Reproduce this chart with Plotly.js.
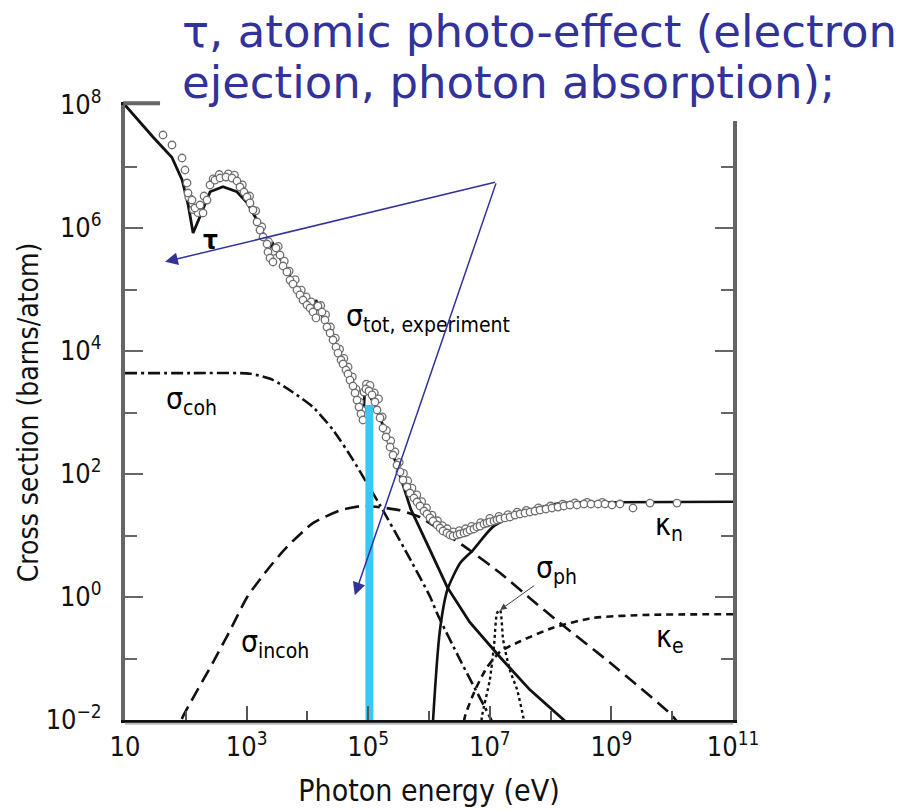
<!DOCTYPE html>
<html>
<head>
<meta charset="utf-8">
<script src="https://cdn.plot.ly/plotly-3.0.1.min.js"></script>
<style>
  html, body { margin: 0; padding: 0; background: #fff; }
  #chart { width: 901px; height: 810px; }
</style>
</head>
<body>
<div id="chart"></div>
<script>
// Photon cross sections in lead. Energies are stored as log10(E / eV),
// cross sections as log10(sigma / (barns/atom)).

// tau: atomic photo-effect (absorption edges included)
const tauLogE   = [1.00, 1.46, 1.77, 1.94, 2.04, 2.12, 2.23, 2.40, 2.61, 2.84, 3.01, 3.17, 3.32, 3.385, 3.42, 3.55, 3.71, 3.88, 4.09, 4.14, 4.37, 4.65, 4.914, 4.947, 5.15, 5.36, 5.51, 5.70, 6.00, 6.30, 6.67, 7.17, 7.66, 8.16, 8.40];
const tauLogSig = [8.00, 7.48, 7.15, 6.78, 6.37, 5.92, 6.18, 6.59, 6.67, 6.59, 6.41, 6.13, 5.81, 5.45, 5.77, 5.51, 5.22, 4.94, 4.58, 4.83, 4.26, 3.69, 2.86, 3.42, 3.04, 2.47, 2.00, 1.43, 0.80, 0.16, -0.41, -0.98, -1.51, -1.95, -2.16];

// sigma_coh: coherent (Rayleigh) scattering
const cohLogE   = [1.00, 2.07, 3.06, 3.43, 3.76, 4.09, 4.42, 4.75, 4.98, 5.19, 5.61, 6.02, 6.13, 6.51, 7.00, 7.15];
const cohLogSig = [3.64, 3.64, 3.63, 3.53, 3.33, 3.09, 2.72, 2.23, 1.85, 1.50, 0.76, 0.00, -0.26, -1.02, -1.95, -2.25];

// sigma_incoh: incoherent (Compton) scattering
const incLogE   = [1.80, 1.95, 2.45, 2.73, 3.01, 3.34, 3.66, 4.09, 4.54, 4.91, 5.19, 5.52, 5.85, 6.18, 6.67, 7.17, 7.66, 8.15, 8.98, 9.96, 10.10];
const incLogSig = [-2.30, -1.95, -1.06, -0.54, 0.00, 0.44, 0.81, 1.20, 1.41, 1.48, 1.46, 1.41, 1.30, 1.09, 0.76, 0.39, -0.02, -0.42, -1.07, -1.89, -2.05];

// kappa_n: pair production in the nuclear field
const knLogE   = [6.02, 6.07, 6.18, 6.30, 6.51, 6.72, 7.05, 7.50, 8.20, 9.03, 11.00];
const knLogSig = [-3.00, -1.95, -0.54, 0.11, 0.55, 0.76, 1.14, 1.37, 1.53, 1.54, 1.55];

// kappa_e: pair production in the electron field
const keLogE   = [6.50, 6.59, 6.76, 6.95, 7.17, 7.50, 8.04, 8.70, 9.63, 11.00];
const keLogSig = [-2.60, -1.95, -1.51, -1.15, -0.89, -0.72, -0.50, -0.34, -0.29, -0.28];

// sigma_ph: photonuclear absorption (giant dipole resonance)
const phLogE   = [6.84, 6.87, 7.00, 7.07, 7.12, 7.17, 7.22, 7.33, 7.45, 7.55, 7.60];
const phLogSig = [-2.40, -1.95, -1.35, -0.78, -0.26, -0.21, -0.70, -1.19, -1.51, -1.95, -2.20];

// sigma_tot: measured total cross section (lower/left run of points)
const totLogE = [1.625, 1.773, 1.938, 1.987, 2.020, 2.036, 2.102, 2.151, 2.234, 2.283, 2.349, 2.398, 2.480, 2.563, 2.661, 2.760, 2.842, 2.891, 2.957, 3.007,
  3.056, 3.105, 3.171, 3.220, 3.270, 3.336, 3.352, 3.385, 3.434, 3.484, 3.549, 3.599, 3.664, 3.714, 3.763, 3.829, 3.878, 3.928, 3.993, 4.043,
  4.092, 4.141, 4.174, 4.240, 4.289, 4.322, 4.372, 4.421, 4.470, 4.503, 4.553, 4.586, 4.635, 4.668, 4.701, 4.750, 4.783, 4.816, 4.849, 4.882,
  4.914, 4.931, 4.964, 5.013, 5.063, 5.112, 5.145, 5.194, 5.243, 5.293, 5.359, 5.408, 5.474, 5.523, 5.572, 5.638, 5.688, 5.753, 5.803, 5.852,
  5.918, 5.967, 6.016, 6.066, 6.132, 6.181, 6.230, 6.296, 6.345, 6.395, 6.461, 6.510, 6.576, 6.625, 6.674, 6.740, 6.789, 6.839, 6.905, 6.954,
  7.003, 7.069, 7.118, 7.168, 7.250, 7.332, 7.414, 7.497, 7.579, 7.661, 7.743, 7.826, 7.924, 8.023, 8.122, 8.220, 8.319, 8.434, 8.549, 8.664,
  8.780, 8.895, 9.010, 9.141, 9.355, 9.635, 10.079];
const totLogSig = [7.512, 7.350, 7.138, 6.943, 6.732, 6.569, 6.455, 6.325, 6.374, 6.244, 6.455, 6.699, 6.780, 6.813, 6.829, 6.813, 6.764, 6.667, 6.585, 6.504,
  6.407, 6.293, 6.098, 5.967, 5.854, 5.740, 5.610, 5.512, 5.447, 5.675, 5.561, 5.382, 5.285, 5.154, 5.089, 4.992, 4.911, 4.829, 4.748, 4.699,
  4.634, 4.537, 4.732, 4.634, 4.504, 4.390, 4.293, 4.179, 4.065, 3.967, 3.854, 3.789, 3.691, 3.626, 3.528, 3.431, 3.317, 3.203, 3.089, 2.976,
  2.878, 3.333, 3.382, 3.350, 3.285, 3.171, 3.041, 2.911, 2.748, 2.602, 2.439, 2.309, 2.146, 2.033, 1.902, 1.789, 1.691, 1.610, 1.545, 1.480,
  1.398, 1.350, 1.285, 1.236, 1.171, 1.122, 1.073, 1.041, 1.008, 0.992, 1.008, 1.024, 1.041, 1.057, 1.089, 1.106, 1.138, 1.154, 1.187, 1.203,
  1.220, 1.236, 1.252, 1.268, 1.285, 1.301, 1.333, 1.350, 1.366, 1.382, 1.398, 1.415, 1.431, 1.447, 1.463, 1.480, 1.496, 1.496, 1.512, 1.512,
  1.512, 1.512, 1.496, 1.512, 1.447, 1.528, 1.528];

// sigma_tot: measured total cross section (upper/right run of points)
const tot2LogE = [2.05, 2.12, 2.20, 2.30, 2.45, 2.55, 2.70, 2.80, 2.93, 3.05, 3.15, 3.25, 3.36, 3.44, 3.52, 3.62, 3.70, 3.80, 3.90, 3.98,
  4.06, 4.16, 4.22, 4.30, 4.38, 4.46, 4.53, 4.60, 4.67, 4.74, 4.80, 4.86, 4.90, 4.97, 5.03, 5.10, 5.17, 5.23, 5.30, 5.37,
  5.44, 5.51, 5.58, 5.65, 5.72, 5.80, 5.88, 5.96, 6.05, 6.14, 6.22, 6.30, 6.40, 6.50, 6.60, 6.70, 6.85, 7.00, 7.15, 7.30,
  7.45, 7.60, 7.80, 8.00, 8.20, 8.40, 8.60, 8.85];
const tot2LogSig = [6.50, 6.30, 6.25, 6.52, 6.80, 6.87, 6.88, 6.86, 6.70, 6.52, 6.28, 6.02, 5.78, 5.62, 5.70, 5.46, 5.30, 5.16, 4.99, 4.88,
  4.80, 4.72, 4.74, 4.59, 4.39, 4.21, 4.03, 3.88, 3.74, 3.58, 3.38, 3.17, 3.04, 3.46, 3.44, 3.32, 3.22, 2.93, 2.71, 2.54,
  2.36, 2.19, 2.01, 1.89, 1.77, 1.66, 1.55, 1.45, 1.33, 1.24, 1.16, 1.11, 1.06, 1.08, 1.11, 1.15, 1.21, 1.28, 1.31, 1.34,
  1.38, 1.41, 1.45, 1.48, 1.51, 1.53, 1.54, 1.54];

// highlighted energy: 100 keV marker bar
const markLogE = [5.02, 5.02];
const markLogSig = [-2.03, 3.12];

// axis tick labels
const xTickExp = [1, 3, 5, 7, 9, 11];
const xTickText = ['10', '10<sup>3</sup>', '10<sup>5</sup>', '10<sup>7</sup>', '10<sup>9</sup>', '10<sup>11</sup>'];
const xMinorExp = [2, 4, 6, 8, 10];
const yTickExp = [-2, 0, 2, 4, 6, 8];
const yTickText = ['10<sup>\u22122</sup>', '10<sup>0</sup>', '10<sup>2</sup>', '10<sup>4</sup>', '10<sup>6</sup>', '10<sup>8</sup>'];
const yMinorExp = [-1, 1, 3, 5, 7];

const p10 = a => a.map(v => Math.pow(10, v));

const AX_FONT = 'DejaVu Sans Condensed, Liberation Sans, Arial, sans-serif';
const BLUE = '#31329a';

const curve = (lx, ly, dash, width, shape) => ({
  x: p10(lx), y: p10(ly), type: 'scatter', mode: 'lines', hoverinfo: 'skip',
  line: { color: '#111', width: width, dash: dash, shape: shape || 'spline', smoothing: 0.6 }
});
const points = (lx, ly) => ({
  x: p10(lx), y: p10(ly), type: 'scatter', mode: 'markers', hoverinfo: 'skip',
  marker: { symbol: 'circle', size: 7.5, color: '#fff', line: { width: 1.3, color: '#707070' } }
});

const traces = [
  curve(cohLogE, cohLogSig, '12px,4px,3px,4px', 2.6),
  curve(incLogE, incLogSig, '14px,7px', 2.6),
  curve(keLogE, keLogSig, '7px,5px', 2.6),
  curve(phLogE, phLogSig, '3px,3px', 2.4),
  curve(knLogE, knLogSig, 'solid', 2.6),
  curve(tauLogE, tauLogSig, 'solid', 2.8, 'linear'),
  points(tot2LogE, tot2LogSig),
  points(totLogE, totLogSig),
  {
    x: p10(markLogE), y: p10(markLogSig), type: 'scatter', mode: 'lines', hoverinfo: 'skip',
    line: { color: '#38c8f4', width: 8 }, cliponaxis: false
  }
];

// annotation positions on log axes are given in decades
const label = (lx, ly, text, size) => ({
  x: lx, y: ly, xref: 'x', yref: 'y', text: text, showarrow: false,
  xanchor: 'left', yanchor: 'middle', font: { family: AX_FONT, size: size || 30, color: '#000' }
});
const blueArrow = (hx, hy, tx, ty) => ({
  x: hx, y: hy, ax: tx, ay: ty, xref: 'x', yref: 'y', axref: 'x', ayref: 'y',
  text: '', showarrow: true, arrowhead: 2, arrowsize: 1.7, arrowwidth: 1.5, arrowcolor: BLUE
});

const annotations = [
  label(2.25, 5.80, '<b>\u03c4</b>', 26),
  label(4.60, 4.54, '\u03c3<sub>tot, experiment</sub>'),
  label(1.64, 3.19, '\u03c3<sub>coh</sub>'),
  label(2.87, -0.76, '\u03c3<sub>incoh</sub>'),
  label(9.68, 1.14, '\u03ba<sub>n</sub>'),
  label(9.70, -0.68, '\u03ba<sub>e</sub>'),
  {
    x: 7.17, y: -0.21, xref: 'x', yref: 'y', ax: 56, ay: -40,
    text: '\u03c3<sub>ph</sub>', showarrow: true, arrowhead: 2, arrowsize: 1.3, arrowwidth: 1, arrowcolor: '#444',
    font: { family: AX_FONT, size: 30, color: '#000' }
  },
  blueArrow(1.66, 5.45, 7.11, 6.75),
  blueArrow(4.78, 0.03, 7.11, 6.75),
  {
    x: 0.0905, y: 1.119, xref: 'paper', yref: 'paper', xanchor: 'left', yanchor: 'middle', showarrow: false,
    text: '\u03c4, atomic photo-effect (electron', font: { family: 'DejaVu Sans', size: 45, color: BLUE }
  },
  {
    x: 0.0905, y: 1.036, xref: 'paper', yref: 'paper', xanchor: 'left', yanchor: 'middle', showarrow: false,
    text: 'ejection, photon absorption);', font: { family: 'DejaVu Sans', size: 45, color: BLUE }
  }
];

const shapes = [
  // shadow under the energy axis
  { type: 'line', xref: 'paper', yref: 'paper', x0: 0, x1: 1, y0: -0.006, y1: -0.006, line: { color: '#bbb', width: 2 } },
  // white panel behind the heading
  { type: 'rect', xref: 'paper', yref: 'paper', x0: 0.0576, x1: 1.4, y0: 0.974, y1: 1.3, fillcolor: '#fff', line: { width: 0 }, layer: 'above' },
  // visible stub of the upper frame edge
  { type: 'line', xref: 'paper', yref: 'paper', x0: -0.003, x1: 0.0576, y0: 1.003, y1: 1.003, line: { color: '#666', width: 4 }, layer: 'above' }
];

const layout = {
  width: 901, height: 810,
  margin: { l: 125, r: 168, t: 105, b: 90 },
  paper_bgcolor: '#fff', plot_bgcolor: '#fff',
  showlegend: false,
  xaxis: {
    type: 'log', range: [1, 11], showgrid: false, zeroline: false,
    showline: true, linecolor: '#111', linewidth: 3, mirror: true,
    ticks: 'inside', ticklen: 14, tickwidth: 2, tickcolor: '#555',
    tickmode: 'array', tickvals: p10(xTickExp), ticktext: xTickText,
    minor: { tickmode: 'array', tickvals: p10(xMinorExp), ticks: 'inside', ticklen: 9, tickwidth: 2, tickcolor: '#555', showgrid: false },
    tickfont: { family: AX_FONT, size: 27, color: '#111' },
    ticklabelstandoff: 1,
    title: { text: 'Photon energy (eV)', font: { family: AX_FONT, size: 30, color: '#111' }, standoff: 19 }
  },
  yaxis: {
    type: 'log', range: [-2, 8], showgrid: false, zeroline: false,
    showline: true, linecolor: '#666', linewidth: 4, mirror: 'ticks',
    ticks: 'inside', ticklen: 18, tickwidth: 2, tickcolor: '#666',
    tickmode: 'array', tickvals: p10(yTickExp), ticktext: yTickText,
    minor: { tickmode: 'array', tickvals: p10(yMinorExp), ticks: 'inside', ticklen: 12, tickwidth: 2, tickcolor: '#666', showgrid: false },
    tickfont: { family: AX_FONT, size: 27, color: '#111' },
    ticklabelstandoff: 14,
    title: { text: 'Cross section (barns/atom)', font: { family: AX_FONT, size: 28, color: '#111' }, standoff: 0 }
  },
  shapes: shapes,
  annotations: annotations
};

Plotly.newPlot('chart', traces, layout, { staticPlot: true, displayModeBar: false });
</script>
</body>
</html>
